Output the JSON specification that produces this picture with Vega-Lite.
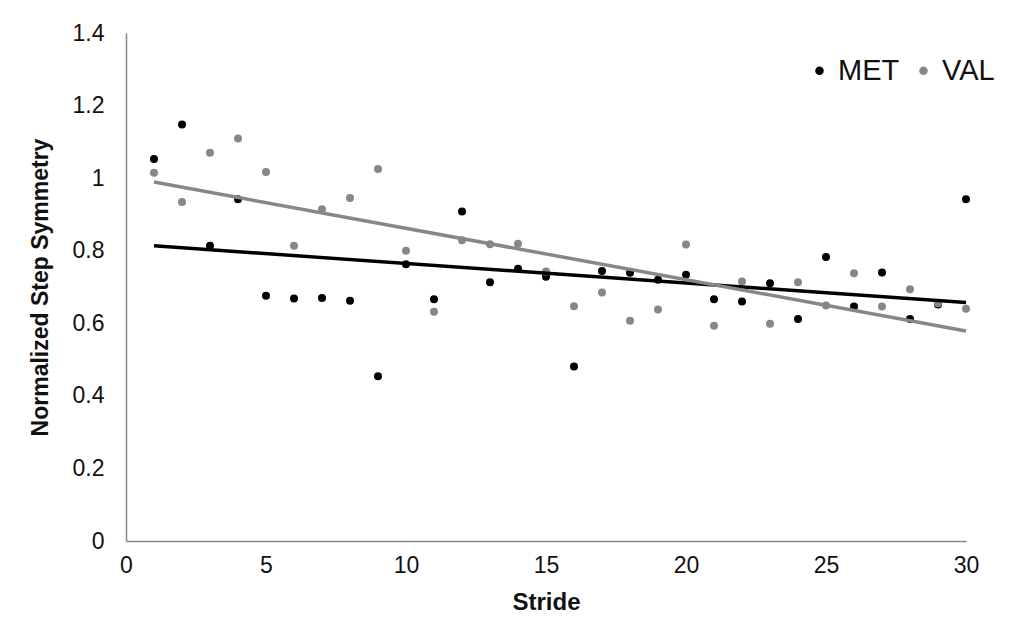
{
  "$schema": "https://vega.github.io/schema/vega-lite/v6.json",
  "autosize": {"type": "none"},
  "width": 840,
  "height": 508,
  "padding": {"left": 126, "top": 33, "right": 50, "bottom": 102},
  "background": "white",
  "config": {
    "view": {"stroke": null},
    "font": "Liberation Sans",
    "axis": {"grid": false, "ticks": false, "domainColor": "#868686", "domainWidth": 1.5, "labelColor": "#111111", "labelFontSize": 23, "titleColor": "#111111", "titleFontSize": 23, "titleFontWeight": "bold"}
  },
  "data": {
    "values": [
      {"stride": 1, "series": "MET", "value": 1.053}, {"stride": 1, "series": "VAL", "value": 1.015},
      {"stride": 2, "series": "MET", "value": 1.148}, {"stride": 2, "series": "VAL", "value": 0.934},
      {"stride": 3, "series": "MET", "value": 0.814}, {"stride": 3, "series": "VAL", "value": 1.070},
      {"stride": 4, "series": "MET", "value": 0.942}, {"stride": 4, "series": "VAL", "value": 1.109},
      {"stride": 5, "series": "MET", "value": 0.676}, {"stride": 5, "series": "VAL", "value": 1.017},
      {"stride": 6, "series": "MET", "value": 0.668}, {"stride": 6, "series": "VAL", "value": 0.814},
      {"stride": 7, "series": "MET", "value": 0.670}, {"stride": 7, "series": "VAL", "value": 0.914},
      {"stride": 8, "series": "MET", "value": 0.662}, {"stride": 8, "series": "VAL", "value": 0.945},
      {"stride": 9, "series": "MET", "value": 0.454}, {"stride": 9, "series": "VAL", "value": 1.025},
      {"stride": 10, "series": "MET", "value": 0.763}, {"stride": 10, "series": "VAL", "value": 0.800},
      {"stride": 11, "series": "MET", "value": 0.666}, {"stride": 11, "series": "VAL", "value": 0.632},
      {"stride": 12, "series": "MET", "value": 0.908}, {"stride": 12, "series": "VAL", "value": 0.829},
      {"stride": 13, "series": "MET", "value": 0.713}, {"stride": 13, "series": "VAL", "value": 0.818},
      {"stride": 14, "series": "MET", "value": 0.750}, {"stride": 14, "series": "VAL", "value": 0.819},
      {"stride": 15, "series": "MET", "value": 0.728}, {"stride": 15, "series": "VAL", "value": 0.743},
      {"stride": 16, "series": "MET", "value": 0.481}, {"stride": 16, "series": "VAL", "value": 0.647},
      {"stride": 17, "series": "MET", "value": 0.744}, {"stride": 17, "series": "VAL", "value": 0.685},
      {"stride": 18, "series": "MET", "value": 0.739}, {"stride": 18, "series": "VAL", "value": 0.607},
      {"stride": 19, "series": "MET", "value": 0.720}, {"stride": 19, "series": "VAL", "value": 0.638},
      {"stride": 20, "series": "MET", "value": 0.734}, {"stride": 20, "series": "VAL", "value": 0.817},
      {"stride": 21, "series": "MET", "value": 0.666}, {"stride": 21, "series": "VAL", "value": 0.593},
      {"stride": 22, "series": "MET", "value": 0.660}, {"stride": 22, "series": "VAL", "value": 0.715},
      {"stride": 23, "series": "MET", "value": 0.710}, {"stride": 23, "series": "VAL", "value": 0.599},
      {"stride": 24, "series": "MET", "value": 0.612}, {"stride": 24, "series": "VAL", "value": 0.713},
      {"stride": 25, "series": "MET", "value": 0.783}, {"stride": 25, "series": "VAL", "value": 0.649},
      {"stride": 26, "series": "MET", "value": 0.646}, {"stride": 26, "series": "VAL", "value": 0.738},
      {"stride": 27, "series": "MET", "value": 0.740}, {"stride": 27, "series": "VAL", "value": 0.646},
      {"stride": 28, "series": "MET", "value": 0.612}, {"stride": 28, "series": "VAL", "value": 0.694},
      {"stride": 29, "series": "MET", "value": 0.652}, {"stride": 29, "series": "VAL", "value": 0.655},
      {"stride": 30, "series": "MET", "value": 0.942}, {"stride": 30, "series": "VAL", "value": 0.640}
    ]
  },
  "encoding": {
    "x": {"field": "stride", "type": "quantitative", "scale": {"domain": [0, 30], "nice": false}, "axis": {"values": [0, 5, 10, 15, 20, 25, 30], "title": "Stride", "labelPadding": 13, "titlePadding": 13, "titleFontSize": 24, "labelFlush": false}},
    "y": {"field": "value", "type": "quantitative", "scale": {"domain": [0, 1.4], "nice": false}, "axis": {"values": [0, 0.2, 0.4, 0.6, 0.8, 1, 1.2, 1.4], "format": "~g", "title": "Normalized Step Symmetry", "labelPadding": 22, "titlePadding": 20, "labelFlush": false}},
    "color": {"field": "series", "type": "nominal", "scale": {"domain": ["MET", "VAL"], "range": ["#000000", "#878787"]}}
  },
  "layer": [
    {
      "mark": {"type": "point", "filled": true, "size": 64, "opacity": 1},
      "encoding": {
        "color": {"field": "series", "type": "nominal", "scale": {"domain": ["MET", "VAL"], "range": ["#000000", "#878787"]},
          "legend": {"title": null, "orient": "none", "legendX": 679, "legendY": 23, "direction": "horizontal", "labelFontSize": 29, "labelColor": "#111111", "symbolType": "circle", "symbolSize": 50, "columnPadding": 9, "labelOffset": 4}}
      }
    },
    {
      "transform": [{"regression": "value", "on": "stride", "groupby": ["series"], "extent": [1, 30]}],
      "mark": {"type": "line", "strokeWidth": 3.5},
      "encoding": {}
    }
  ]
}
